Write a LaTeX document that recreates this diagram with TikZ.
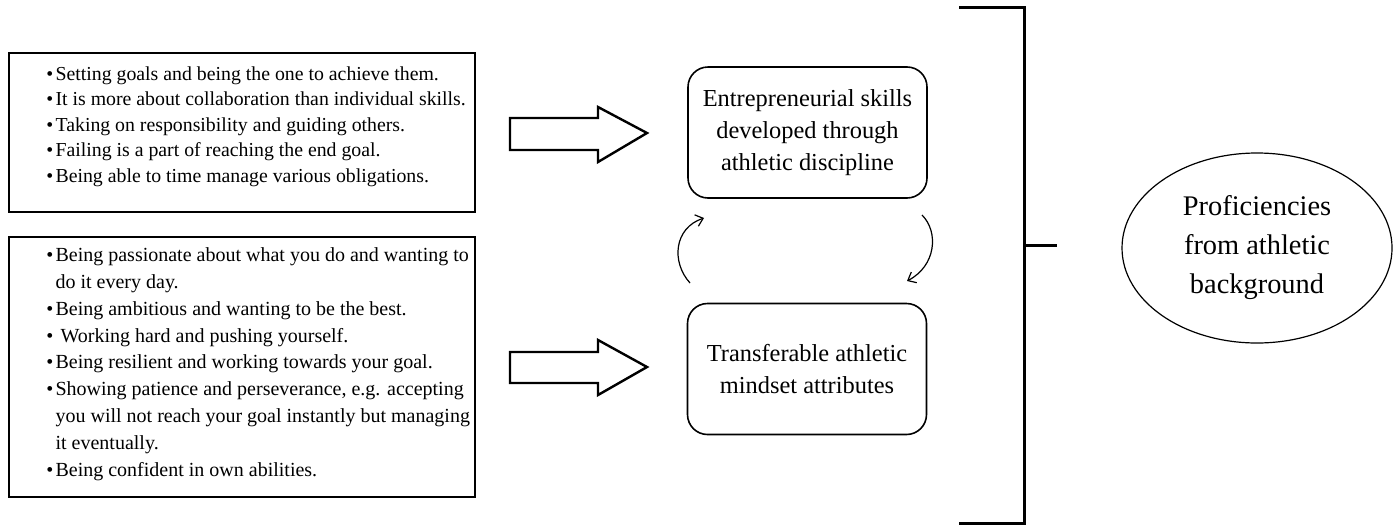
\documentclass[tikz,border=0pt]{standalone}
\usepackage{fontspec}
\setmainfont{Liberation Serif}
\usetikzlibrary{arrows.meta,shapes.geometric}

\newcommand\bul{\makebox[4.6pt][l]{\textbullet}}
\newcommand\nobul{\hspace*{4.6pt}}

\begin{document}
\begin{tikzpicture}[x=0.5pt,y=-0.5pt,
  listframe/.style={draw=black, line width=1.2pt, rectangle, inner sep=0pt},
  listtext/.style={anchor=base west, align=left, inner sep=0pt},
  roundbox/.style={draw=black, line width=0.8pt, rectangle, rounded corners=10pt,
    minimum width=119.5pt, minimum height=65.5pt, inner sep=0pt, align=center,
    font=\fontsize{12.2pt}{16pt}\selectfont},
  blockarrow/.style={draw=black, line width=1.2pt, line join=miter},
  cyclearrow/.style={draw=black, line width=0.6pt, -{Straight Barb[length=3.5pt,width=6pt]}},
  bracket/.style={draw=black, line width=1.5pt, line join=miter},
  goal/.style={draw=black, line width=0.6pt, ellipse, minimum width=135pt,
    minimum height=95pt, inner sep=0pt, align=center,
    font=\fontsize{14.2pt}{19.5pt}\selectfont}]

\useasboundingbox (0,0) rectangle (1400,525);

% list frames on the left
\node[listframe, minimum width=233pt, minimum height=79.5pt] (skillsframe) at (242,132.5) {};
\node[listframe, minimum width=233pt, minimum height=130pt] (mindframe) at (242,367) {};

% the lists are anchored at the baseline of their last line
\node[listtext, font=\fontsize{9.9pt}{12.75pt}\selectfont] (skillslist) at (46,182) {%
\bul Setting goals and being the one to achieve them.\\
\bul It is more about collaboration than individual skills.\\
\bul Taking on responsibility and guiding others.\\
\bul Failing is a part of reaching the end goal.\\
\bul Being able to time manage various obligations.};

\node[listtext, font=\fontsize{10pt}{13.4pt}\selectfont] (mindlist) at (46,476) {%
\bul Being passionate about what you do and wanting to\\
\nobul do it every day.\\
\bul Being ambitious and wanting to be the best.\\
\bul \ Working hard and pushing yourself.\\
\bul Being resilient and working towards your goal.\\
\bul Showing patience and perseverance, e.g. accepting\\
\nobul you will not reach your goal instantly but managing\\
\nobul it eventually.\\
\bul Being confident in own abilities.};

% central rounded boxes
\node[roundbox] (skills) at (807.5,132.5) {Entrepreneurial skills\\developed through\\athletic discipline};
\node[roundbox] (mindset) at (807,369) {Transferable athletic\\mindset attributes};

% hollow block arrows
\draw[blockarrow] (510,118) -- (598,118) -- (598,107) -- (647,133) -- (598,162)
  -- (598,150) -- (510,150) -- cycle;
\draw[blockarrow] (510,352) -- (598,352) -- (598,340) -- (647,367) -- (598,395)
  -- (598,383) -- (510,383) -- cycle;

% cycle between the two boxes
\coordinate (upstart) at (690,283);
\coordinate (upend) at (704,218);
\coordinate (downstart) at (922,215);
\coordinate (downend) at (907,281);
\draw[cyclearrow] (upstart) .. controls (671,262) and (674,228) .. (upend);
\draw[cyclearrow] (downstart) .. controls (939,232) and (936,266) .. (downend);

% bracket gathering both strands
\coordinate (brtop) at (959,7);
\coordinate (brbot) at (959,523);
\coordinate (brmid) at (1024,245);
\draw[bracket] (brtop) -- (1024,7) -- (1024,523) -- (brbot);
\draw[bracket] (brmid) -- (1057,245);

% outcome
\node[goal] (outcome) at (1257,248) {Proficiencies\\from athletic\\background};

\end{tikzpicture}
\end{document}
